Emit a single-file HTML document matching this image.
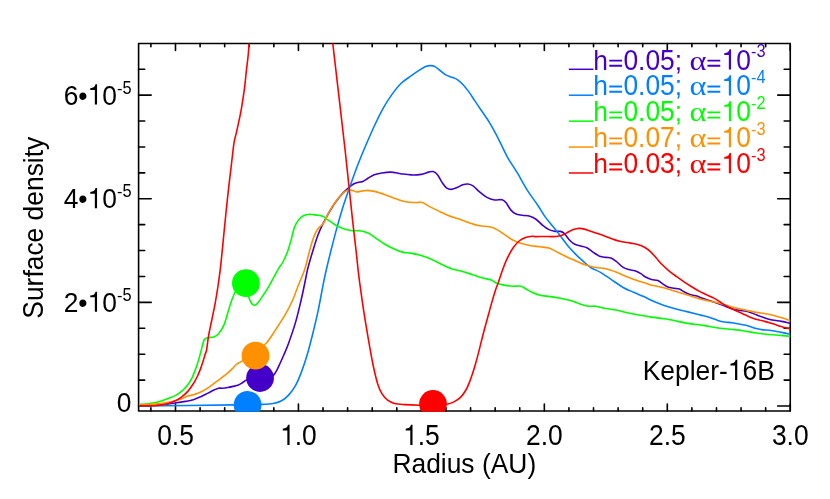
<!DOCTYPE html>
<html><head><meta charset="utf-8"><title>Surface density</title>
<style>html,body{margin:0;padding:0;background:#fff;}body{width:830px;height:499px;position:relative;overflow:hidden;font-family:"Liberation Sans",sans-serif;}</style>
</head><body>
<svg width="830" height="499" viewBox="0 0 830 499" style="position:absolute;left:0;top:0;will-change:transform;-webkit-font-smoothing:antialiased">
<defs><clipPath id="pc"><rect x="138.6" y="43.5" width="651.65" height="368.15000000000003"/></clipPath></defs>
<path d="M150.90,411.05v-3.2M150.90,43.5v3.2M175.49,411.05v-7.0M175.49,43.5v7.0M200.08,411.05v-3.2M200.08,43.5v3.2M224.67,411.05v-3.2M224.67,43.5v3.2M249.26,411.05v-3.2M249.26,43.5v3.2M273.85,411.05v-3.2M273.85,43.5v3.2M298.44,411.05v-7.0M298.44,43.5v7.0M323.03,411.05v-3.2M323.03,43.5v3.2M347.62,411.05v-3.2M347.62,43.5v3.2M372.21,411.05v-3.2M372.21,43.5v3.2M396.80,411.05v-3.2M396.80,43.5v3.2M421.39,411.05v-7.0M421.39,43.5v7.0M445.98,411.05v-3.2M445.98,43.5v3.2M470.57,411.05v-3.2M470.57,43.5v3.2M495.16,411.05v-3.2M495.16,43.5v3.2M519.75,411.05v-3.2M519.75,43.5v3.2M544.34,411.05v-7.0M544.34,43.5v7.0M568.93,411.05v-3.2M568.93,43.5v3.2M593.53,411.05v-3.2M593.53,43.5v3.2M618.12,411.05v-3.2M618.12,43.5v3.2M642.71,411.05v-3.2M642.71,43.5v3.2M667.30,411.05v-7.0M667.30,43.5v7.0M691.89,411.05v-3.2M691.89,43.5v3.2M716.48,411.05v-3.2M716.48,43.5v3.2M741.07,411.05v-3.2M741.07,43.5v3.2M765.66,411.05v-3.2M765.66,43.5v3.2M790.25,411.05v-7.0M790.25,43.5v7.0M138.6,406.03h12.6M790.25,406.03h-12.6M138.6,380.12h6.1M790.25,380.12h-6.1M138.6,354.21h6.1M790.25,354.21h-6.1M138.6,328.30h6.1M790.25,328.30h-6.1M138.6,302.39h12.6M790.25,302.39h-12.6M138.6,276.48h6.1M790.25,276.48h-6.1M138.6,250.57h6.1M790.25,250.57h-6.1M138.6,224.66h6.1M790.25,224.66h-6.1M138.6,198.75h12.6M790.25,198.75h-12.6M138.6,172.84h6.1M790.25,172.84h-6.1M138.6,146.93h6.1M790.25,146.93h-6.1M138.6,121.02h6.1M790.25,121.02h-6.1M138.6,95.11h12.6M790.25,95.11h-12.6M138.6,69.20h6.1M790.25,69.20h-6.1" stroke="#000" stroke-width="1.6" fill="none" stroke-linecap="round"/>
<rect stroke-linejoin="round" x="138.6" y="43.5" width="651.65" height="367.55" fill="none" stroke="#000" stroke-width="1.6"/>
<g clip-path="url(#pc)" fill="none" stroke-linejoin="round" stroke-linecap="round">
<path d="M139.60,405.40C143.25,405.27 155.63,405.00 161.50,404.60C167.37,404.20 170.82,403.53 174.80,403.00C178.78,402.47 182.32,401.95 185.40,401.40C188.48,400.85 190.65,400.53 193.30,399.70C195.95,398.87 198.87,397.50 201.30,396.40C203.73,395.30 205.70,394.20 207.90,393.10C210.10,392.00 212.73,390.62 214.50,389.80C216.27,388.98 217.17,388.47 218.50,388.20C219.83,387.93 220.95,388.32 222.50,388.20C224.05,388.08 226.03,387.80 227.80,387.50C229.57,387.20 231.33,386.82 233.10,386.40C234.87,385.98 236.85,385.62 238.40,385.00C239.95,384.38 241.05,383.52 242.40,382.70C243.75,381.88 244.90,380.78 246.50,380.10C248.10,379.42 249.42,378.87 252.00,378.60C254.58,378.33 259.00,378.68 262.00,378.50C265.00,378.32 268.07,378.07 270.00,377.50C271.93,376.93 272.43,376.38 273.60,375.10C274.77,373.82 275.93,371.73 277.00,369.80C278.07,367.87 278.83,366.05 280.00,363.50C281.17,360.95 282.57,357.88 284.00,354.50C285.43,351.12 286.67,348.60 288.60,343.20C290.53,337.80 293.50,329.35 295.60,322.10C297.70,314.85 299.63,306.38 301.20,299.70C302.77,293.02 303.95,286.98 305.00,282.00C306.05,277.02 306.57,273.73 307.50,269.80C308.43,265.87 309.48,262.30 310.60,258.40C311.72,254.50 313.00,250.22 314.20,246.40C315.40,242.58 316.52,238.92 317.80,235.50C319.08,232.08 320.48,228.90 321.90,225.90C323.32,222.90 324.77,220.32 326.30,217.50C327.83,214.68 329.30,211.90 331.10,209.00C332.90,206.10 335.10,202.78 337.10,200.10C339.10,197.42 341.08,195.03 343.10,192.90C345.12,190.77 347.38,188.83 349.20,187.30C351.02,185.77 352.20,184.58 354.00,183.70C355.80,182.82 358.52,182.37 360.00,182.00C361.48,181.63 361.57,182.13 362.90,181.50C364.23,180.87 366.10,179.33 368.00,178.20C369.90,177.07 372.20,175.53 374.30,174.70C376.40,173.87 377.87,173.63 380.60,173.20C383.33,172.77 387.32,172.02 390.70,172.10C394.08,172.18 397.52,173.23 400.90,173.70C404.28,174.17 407.63,174.78 411.00,174.90C414.37,175.02 418.15,174.87 421.10,174.40C424.05,173.93 426.68,172.57 428.70,172.10C430.72,171.63 431.73,171.17 433.20,171.60C434.67,172.03 435.93,172.75 437.50,174.70C439.07,176.65 441.12,181.12 442.60,183.30C444.08,185.48 445.00,186.78 446.40,187.80C447.80,188.82 449.32,189.40 451.00,189.40C452.68,189.40 454.53,188.57 456.50,187.80C458.47,187.03 460.90,185.43 462.80,184.80C464.70,184.17 466.20,183.83 467.90,184.00C469.60,184.17 471.10,184.53 473.00,185.80C474.90,187.07 476.98,189.67 479.30,191.60C481.62,193.53 484.37,196.00 486.90,197.40C489.43,198.80 491.97,199.62 494.50,200.00C497.03,200.38 500.20,199.28 502.10,199.70C504.00,200.12 504.43,200.77 505.90,202.50C507.37,204.23 509.22,208.17 510.90,210.10C512.58,212.03 514.10,213.25 516.00,214.10C517.90,214.95 519.98,214.85 522.30,215.20C524.62,215.55 527.57,215.48 529.90,216.20C532.23,216.92 534.17,217.98 536.30,219.50C538.43,221.02 540.58,223.62 542.70,225.30C544.82,226.98 546.90,228.58 549.00,229.60C551.10,230.62 553.40,231.10 555.30,231.40C557.20,231.70 558.92,231.07 560.40,231.40C561.88,231.73 562.73,232.02 564.20,233.40C565.67,234.78 567.52,237.93 569.20,239.70C570.88,241.47 572.40,242.95 574.30,244.00C576.20,245.05 578.50,245.37 580.60,246.00C582.70,246.63 584.78,246.73 586.90,247.80C589.02,248.87 591.18,251.00 593.30,252.40C595.42,253.80 597.50,255.37 599.60,256.20C601.70,257.03 604.00,257.12 605.90,257.40C607.80,257.68 609.32,257.27 611.00,257.90C612.68,258.53 614.10,259.72 616.00,261.20C617.90,262.68 620.28,265.40 622.40,266.80C624.52,268.20 626.60,268.93 628.70,269.60C630.80,270.27 632.90,270.08 635.00,270.80C637.10,271.52 639.62,272.90 641.30,273.90C642.98,274.90 643.40,275.88 645.10,276.80C646.80,277.72 649.38,278.77 651.50,279.40C653.62,280.03 655.92,279.85 657.80,280.60C659.68,281.35 661.12,282.83 662.80,283.90C664.48,284.97 666.00,286.28 667.90,287.00C669.80,287.72 672.30,287.87 674.20,288.20C676.10,288.53 677.60,288.37 679.30,289.00C681.00,289.63 682.50,291.03 684.40,292.00C686.30,292.97 688.60,294.12 690.70,294.80C692.80,295.48 694.90,295.48 697.00,296.10C699.10,296.72 700.05,297.37 703.30,298.50C706.55,299.63 712.75,301.58 716.50,302.90C720.25,304.22 723.15,305.37 725.80,306.40C728.45,307.43 729.97,308.43 732.40,309.10C734.83,309.77 737.75,309.97 740.40,310.40C743.05,310.83 745.65,310.97 748.30,311.70C750.95,312.43 753.65,313.80 756.30,314.80C758.95,315.80 761.55,316.83 764.20,317.70C766.85,318.57 769.32,319.38 772.20,320.00C775.08,320.62 778.48,320.85 781.50,321.40C784.52,321.95 788.83,322.98 790.30,323.30" stroke="#4400c8" stroke-width="1.6"/>
<path d="M139.80,406.00C155.48,405.82 213.55,405.17 233.90,404.90C254.25,404.63 255.35,404.63 261.90,404.40C268.45,404.17 269.92,404.12 273.20,403.50C276.48,402.88 279.03,402.10 281.60,400.70C284.17,399.30 286.27,397.67 288.60,395.10C290.93,392.53 293.50,389.05 295.60,385.30C297.70,381.55 299.32,377.52 301.20,372.60C303.08,367.68 305.02,362.12 306.90,355.80C308.78,349.48 310.63,342.18 312.50,334.70C314.37,327.22 316.35,319.13 318.10,310.90C319.85,302.67 321.63,292.15 323.00,285.30C324.37,278.45 324.95,275.68 326.30,269.80C327.65,263.92 329.30,257.12 331.10,250.00C332.90,242.88 335.10,234.33 337.10,227.10C339.10,219.87 341.08,213.02 343.10,206.60C345.12,200.18 347.18,194.42 349.20,188.60C351.22,182.78 353.40,176.60 355.20,171.70C357.00,166.80 358.30,163.43 360.00,159.20C361.70,154.97 363.02,151.83 365.40,146.30C367.78,140.77 371.35,132.33 374.30,126.00C377.25,119.67 380.15,113.57 383.10,108.30C386.05,103.03 389.03,98.53 392.00,94.40C394.97,90.27 397.73,86.58 400.90,83.50C404.07,80.42 407.85,78.17 411.00,75.90C414.15,73.63 417.27,71.50 419.80,69.90C422.33,68.30 424.38,67.02 426.20,66.30C428.02,65.58 429.23,65.55 430.70,65.60C432.17,65.65 433.45,65.78 435.00,66.60C436.55,67.42 438.20,69.12 440.00,70.50C441.80,71.88 443.87,73.78 445.80,74.90C447.73,76.02 449.68,76.42 451.60,77.20C453.52,77.98 455.38,78.35 457.30,79.60C459.22,80.85 461.17,82.65 463.10,84.70C465.03,86.75 466.97,89.25 468.90,91.90C470.83,94.55 472.77,97.70 474.70,100.60C476.63,103.50 478.13,105.80 480.50,109.30C482.87,112.80 486.37,117.55 488.90,121.60C491.43,125.65 493.30,129.07 495.70,133.60C498.10,138.13 501.18,144.58 503.30,148.80C505.42,153.02 506.08,154.92 508.40,158.90C510.72,162.88 514.03,167.45 517.20,172.70C520.37,177.95 524.00,185.02 527.40,190.40C530.80,195.78 534.63,200.58 537.60,205.00C540.57,209.42 542.67,213.35 545.20,216.90C547.73,220.45 550.27,223.13 552.80,226.30C555.33,229.47 557.87,232.62 560.40,235.90C562.93,239.18 565.48,242.97 568.00,246.00C570.52,249.03 572.98,251.57 575.50,254.10C578.02,256.63 580.57,258.97 583.10,261.20C585.63,263.43 587.73,265.60 590.70,267.50C593.67,269.40 597.52,270.62 600.90,272.60C604.28,274.58 607.22,276.88 611.00,279.40C614.78,281.92 619.82,285.55 623.60,287.70C627.38,289.85 630.32,290.82 633.70,292.30C637.08,293.78 640.52,295.05 643.90,296.60C647.28,298.15 650.63,300.13 654.00,301.60C657.37,303.07 660.73,304.25 664.10,305.40C667.47,306.55 670.82,307.57 674.20,308.50C677.58,309.43 681.02,310.17 684.40,311.00C687.78,311.83 691.80,312.82 694.50,313.50C697.20,314.18 698.03,314.45 700.60,315.10C703.17,315.75 707.03,316.52 709.90,317.40C712.77,318.28 715.37,319.63 717.80,320.40C720.23,321.17 722.07,321.62 724.50,322.00C726.93,322.38 729.75,322.32 732.40,322.70C735.05,323.08 737.75,323.77 740.40,324.30C743.05,324.83 745.65,325.18 748.30,325.90C750.95,326.62 754.08,327.98 756.30,328.60C758.52,329.22 758.95,329.25 761.60,329.60C764.25,329.95 768.67,330.20 772.20,330.70C775.73,331.20 779.78,332.00 782.80,332.60C785.82,333.20 789.05,334.02 790.30,334.30" stroke="#0080ff" stroke-width="1.6"/>
<path d="M139.60,404.30C141.05,404.20 145.08,404.13 148.30,403.70C151.52,403.27 155.60,402.58 158.90,401.70C162.20,400.82 165.23,399.50 168.10,398.40C170.97,397.30 173.67,396.43 176.10,395.10C178.53,393.77 180.72,392.17 182.70,390.40C184.68,388.63 186.45,386.60 188.00,384.50C189.55,382.40 190.78,380.23 192.00,377.80C193.22,375.37 194.30,372.55 195.30,369.90C196.30,367.25 197.23,364.33 198.00,361.90C198.77,359.47 199.35,357.28 199.90,355.30C200.45,353.32 200.55,352.63 201.30,350.00C202.05,347.37 203.18,341.57 204.40,339.50C205.62,337.43 207.05,338.02 208.60,337.60C210.15,337.18 212.07,337.62 213.70,337.00C215.33,336.38 216.68,335.92 218.40,333.90C220.12,331.88 222.35,328.73 224.00,324.90C225.65,321.07 226.97,315.13 228.30,310.90C229.63,306.67 230.85,302.65 232.00,299.50C233.15,296.35 234.03,294.42 235.20,292.00C236.37,289.58 237.70,286.33 239.00,285.00C240.30,283.67 241.75,283.33 243.00,284.00C244.25,284.67 245.55,286.82 246.50,289.00C247.45,291.18 247.90,294.77 248.70,297.10C249.50,299.43 250.35,301.63 251.30,303.00C252.25,304.37 253.33,305.30 254.40,305.30C255.47,305.30 256.27,304.65 257.70,303.00C259.13,301.35 261.55,297.50 263.00,295.40C264.45,293.30 265.17,292.38 266.40,290.40C267.63,288.42 269.13,285.75 270.40,283.50C271.67,281.25 272.60,279.45 274.00,276.90C275.40,274.35 277.32,270.68 278.80,268.20C280.28,265.72 281.42,264.83 282.90,262.00C284.38,259.17 286.30,255.00 287.70,251.20C289.10,247.40 290.17,243.22 291.30,239.20C292.43,235.18 293.28,230.32 294.50,227.10C295.72,223.88 297.12,221.78 298.60,219.90C300.08,218.02 301.60,216.73 303.40,215.80C305.20,214.87 307.20,214.42 309.40,214.30C311.60,214.18 314.38,214.77 316.60,215.10C318.82,215.43 320.68,215.42 322.70,216.30C324.72,217.18 326.50,218.92 328.70,220.40C330.90,221.88 333.30,223.77 335.90,225.20C338.50,226.63 341.48,228.08 344.30,229.00C347.12,229.92 350.18,230.42 352.80,230.70C355.42,230.98 357.47,230.33 360.00,230.70C362.53,231.07 365.42,231.70 368.00,232.90C370.58,234.10 372.55,235.92 375.50,237.90C378.45,239.88 382.32,242.82 385.70,244.80C389.08,246.78 392.85,248.53 395.80,249.80C398.75,251.07 400.87,251.85 403.40,252.40C405.93,252.95 408.05,252.57 411.00,253.10C413.95,253.63 417.73,254.58 421.10,255.60C424.47,256.62 427.83,257.75 431.20,259.20C434.57,260.65 437.92,262.70 441.30,264.30C444.68,265.90 448.12,267.63 451.50,268.80C454.88,269.97 458.23,270.37 461.60,271.30C464.97,272.23 468.33,273.33 471.70,274.40C475.07,275.47 478.43,276.73 481.80,277.70C485.17,278.67 489.60,279.35 491.90,280.20C494.20,281.05 493.57,281.98 495.60,282.80C497.63,283.62 501.28,284.53 504.10,285.10C506.92,285.67 509.70,286.02 512.50,286.20C515.30,286.38 518.57,285.68 520.90,286.20C523.23,286.72 524.40,288.17 526.50,289.30C528.60,290.43 531.23,292.00 533.50,293.00C535.77,294.00 537.32,294.70 540.10,295.30C542.88,295.90 546.82,296.10 550.20,296.60C553.58,297.10 557.02,297.67 560.40,298.30C563.78,298.93 567.13,299.42 570.50,300.40C573.87,301.38 577.65,303.23 580.60,304.20C583.55,305.17 585.67,305.87 588.20,306.20C590.73,306.53 592.85,305.82 595.80,306.20C598.75,306.58 602.53,307.87 605.90,308.50C609.27,309.13 612.62,309.33 616.00,310.00C619.38,310.67 622.40,311.67 626.20,312.50C630.00,313.33 634.58,314.23 638.80,315.00C643.02,315.77 647.28,316.47 651.50,317.10C655.72,317.73 659.88,318.13 664.10,318.80C668.32,319.47 672.58,320.30 676.80,321.10C681.02,321.90 684.98,322.88 689.40,323.60C693.82,324.32 698.78,324.72 703.30,325.40C707.82,326.08 712.08,327.07 716.50,327.70C720.92,328.33 725.38,328.70 729.80,329.20C734.22,329.70 738.58,330.07 743.00,330.70C747.42,331.33 751.88,332.37 756.30,333.00C760.72,333.63 765.08,334.07 769.50,334.50C773.92,334.93 779.33,335.30 782.80,335.60C786.27,335.90 789.05,336.18 790.30,336.30" stroke="#00ff00" stroke-width="1.6"/>
<path d="M139.60,405.00C142.15,404.85 150.15,404.53 154.90,404.10C159.65,403.67 164.13,403.13 168.10,402.40C172.07,401.67 175.38,400.75 178.70,399.70C182.02,398.65 185.35,396.98 188.00,396.10C190.65,395.22 192.38,395.12 194.60,394.40C196.82,393.68 198.87,393.02 201.30,391.80C203.73,390.58 206.55,388.88 209.20,387.10C211.85,385.32 214.55,383.08 217.20,381.10C219.85,379.12 222.67,377.18 225.10,375.20C227.53,373.22 229.80,371.08 231.80,369.20C233.80,367.32 235.33,365.28 237.10,363.90C238.87,362.52 239.42,363.05 242.40,360.90C245.38,358.75 251.03,353.95 255.00,351.00C258.97,348.05 262.70,346.85 266.20,343.20C269.70,339.55 272.73,334.02 276.00,329.10C279.27,324.18 283.00,318.60 285.80,313.70C288.60,308.80 290.72,304.43 292.80,299.70C294.88,294.97 296.33,290.28 298.30,285.30C300.27,280.32 302.95,274.68 304.60,269.80C306.25,264.92 307.00,260.50 308.20,256.00C309.40,251.50 310.60,246.62 311.80,242.80C313.00,238.98 314.20,235.63 315.40,233.10C316.60,230.57 317.67,229.20 319.00,227.60C320.33,226.00 321.98,225.58 323.40,223.50C324.82,221.42 326.02,217.92 327.50,215.10C328.98,212.28 330.50,209.42 332.30,206.60C334.10,203.78 336.30,200.60 338.30,198.20C340.30,195.80 342.48,193.60 344.30,192.20C346.12,190.80 347.78,190.08 349.20,189.80C350.62,189.52 351.60,190.15 352.80,190.50C354.00,190.85 355.20,191.75 356.40,191.90C357.60,192.05 358.92,191.57 360.00,191.40C361.08,191.23 361.57,191.07 362.90,190.90C364.23,190.73 365.90,190.28 368.00,190.40C370.10,190.52 372.55,190.85 375.50,191.60C378.45,192.35 382.32,193.72 385.70,194.90C389.08,196.08 392.43,197.55 395.80,198.70C399.17,199.85 402.53,201.17 405.90,201.80C409.27,202.43 413.25,202.38 416.00,202.50C418.75,202.62 420.28,201.90 422.40,202.50C424.52,203.10 425.97,204.67 428.70,206.10C431.43,207.53 435.43,209.50 438.80,211.10C442.17,212.70 445.53,214.38 448.90,215.70C452.27,217.02 455.62,217.82 459.00,219.00C462.38,220.18 465.82,221.67 469.20,222.80C472.58,223.93 475.93,225.13 479.30,225.80C482.67,226.47 486.45,226.17 489.40,226.80C492.35,227.43 494.47,228.30 497.00,229.60C499.53,230.90 502.07,232.92 504.60,234.60C507.13,236.28 509.67,238.30 512.20,239.70C514.73,241.10 516.85,242.03 519.80,243.00C522.75,243.97 526.52,244.87 529.90,245.50C533.28,246.13 536.92,246.37 540.10,246.80C543.28,247.23 546.47,247.38 549.00,248.10C551.53,248.82 552.57,249.75 555.30,251.10C558.03,252.45 562.03,254.60 565.40,256.20C568.77,257.80 572.12,259.23 575.50,260.70C578.88,262.17 582.32,263.87 585.70,265.00C589.08,266.13 592.43,266.87 595.80,267.50C599.17,268.13 602.53,268.03 605.90,268.80C609.27,269.57 612.62,270.83 616.00,272.10C619.38,273.37 622.82,275.05 626.20,276.40C629.58,277.75 632.93,279.02 636.30,280.20C639.67,281.38 643.87,282.67 646.40,283.50C648.93,284.33 648.97,284.58 651.50,285.20C654.03,285.82 658.23,286.37 661.60,287.20C664.97,288.03 668.33,289.18 671.70,290.20C675.07,291.22 678.75,292.37 681.80,293.30C684.85,294.23 686.42,294.72 690.00,295.80C693.58,296.88 698.88,298.68 703.30,299.80C707.72,300.92 712.08,301.40 716.50,302.50C720.92,303.60 725.38,305.23 729.80,306.40C734.22,307.57 738.58,308.50 743.00,309.50C747.42,310.50 752.77,311.73 756.30,312.40C759.83,313.07 761.12,312.95 764.20,313.50C767.28,314.05 771.70,314.93 774.80,315.70C777.90,316.47 780.22,317.25 782.80,318.10C785.38,318.95 789.05,320.35 790.30,320.80" stroke="#ff9000" stroke-width="1.6"/>
<path d="M139.60,405.70C142.15,405.70 150.58,405.93 154.90,405.70C159.22,405.47 162.18,405.08 165.50,404.30C168.82,403.52 172.15,402.20 174.80,401.00C177.45,399.80 179.20,398.75 181.40,397.10C183.60,395.45 186.02,393.32 188.00,391.10C189.98,388.88 191.75,386.23 193.30,383.80C194.85,381.37 196.08,379.03 197.30,376.50C198.52,373.97 199.60,371.25 200.60,368.60C201.60,365.95 202.53,363.03 203.30,360.60C204.07,358.17 204.65,355.77 205.20,354.00C205.75,352.23 206.03,353.07 206.60,350.00C207.17,346.93 207.70,340.77 208.60,335.60C209.50,330.43 210.90,324.42 212.00,319.00C213.10,313.58 214.20,308.60 215.20,303.10C216.20,297.60 217.17,291.55 218.00,286.00C218.83,280.45 219.58,274.80 220.20,269.80C220.82,264.80 221.13,261.52 221.70,256.00C222.27,250.48 222.97,243.12 223.60,236.70C224.23,230.28 224.85,223.92 225.50,217.50C226.15,211.08 226.85,204.23 227.50,198.20C228.15,192.17 228.75,186.92 229.40,181.30C230.05,175.68 230.80,169.63 231.40,164.50C232.00,159.37 232.52,154.38 233.00,150.50C233.48,146.62 233.70,144.35 234.30,141.20C234.90,138.05 235.82,135.02 236.60,131.60C237.38,128.18 238.23,124.32 239.00,120.70C239.77,117.08 240.52,113.72 241.20,109.90C241.88,106.08 242.50,101.82 243.10,97.80C243.70,93.78 244.27,90.22 244.80,85.80C245.33,81.38 245.77,76.12 246.30,71.30C246.83,66.48 247.52,61.52 248.00,56.90C248.48,52.28 248.95,46.42 249.20,43.60C249.45,40.78 249.45,40.60 249.50,40.00" stroke="#ff0000" stroke-width="1.6"/>
<path d="M332.40,40.00C332.47,40.60 331.62,33.37 332.80,43.60C333.98,53.83 337.45,83.67 339.50,101.40C341.55,119.13 343.48,135.47 345.10,150.00C346.72,164.53 347.92,176.55 349.20,188.60C350.48,200.65 351.60,211.47 352.80,222.30C354.00,233.13 355.52,245.68 356.40,253.60C357.28,261.52 357.57,265.07 358.10,269.80C358.63,274.53 358.67,275.15 359.60,282.00C360.53,288.85 362.08,300.47 363.70,310.90C365.32,321.33 367.67,335.25 369.30,344.60C370.93,353.95 372.10,360.45 373.50,367.00C374.90,373.55 376.30,379.45 377.70,383.90C379.10,388.35 380.25,390.98 381.90,393.70C383.55,396.42 385.48,398.57 387.60,400.20C389.72,401.83 391.80,402.77 394.60,403.50C397.40,404.23 400.20,404.32 404.40,404.60C408.60,404.88 415.03,405.10 419.80,405.20C424.57,405.30 428.48,405.37 433.00,405.20C437.52,405.03 443.48,404.72 446.90,404.20C450.32,403.68 451.23,403.23 453.50,402.10C455.77,400.97 458.38,399.50 460.50,397.40C462.62,395.30 464.55,392.45 466.20,389.50C467.85,386.55 469.00,383.45 470.40,379.70C471.80,375.95 473.20,371.68 474.60,367.00C476.00,362.32 477.40,356.98 478.80,351.60C480.20,346.22 481.60,340.08 483.00,334.70C484.40,329.32 485.80,324.43 487.20,319.30C488.60,314.17 490.00,308.82 491.40,303.90C492.80,298.98 494.45,293.37 495.60,289.80C496.75,286.23 497.22,285.58 498.30,282.50C499.38,279.42 500.63,275.27 502.10,271.30C503.57,267.33 505.20,262.70 507.10,258.70C509.00,254.70 511.38,250.33 513.50,247.30C515.62,244.27 517.70,242.18 519.80,240.50C521.90,238.82 524.00,237.92 526.10,237.20C528.20,236.48 530.92,236.30 532.40,236.20C533.88,236.10 533.00,236.55 535.00,236.60C537.00,236.65 541.38,236.50 544.40,236.50C547.42,236.50 550.68,236.68 553.10,236.60C555.52,236.52 557.10,236.37 558.90,236.00C560.70,235.63 562.33,235.07 563.90,234.40C565.47,233.73 566.85,232.77 568.30,232.00C569.75,231.23 571.28,230.35 572.60,229.80C573.92,229.25 575.00,228.93 576.20,228.70C577.40,228.47 578.47,228.33 579.80,228.40C581.13,228.47 582.75,228.75 584.20,229.10C585.65,229.45 586.70,229.90 588.50,230.50C590.30,231.10 592.33,231.80 595.00,232.70C597.67,233.60 600.52,234.52 604.50,235.90C608.48,237.28 614.57,239.80 618.90,241.00C623.23,242.20 627.12,242.45 630.50,243.10C633.88,243.75 636.80,244.17 639.20,244.90C641.60,245.63 642.98,246.35 644.90,247.50C646.82,248.65 648.77,250.00 650.70,251.80C652.63,253.60 654.57,256.13 656.50,258.30C658.43,260.47 660.13,262.63 662.30,264.80C664.47,266.97 667.10,269.32 669.50,271.30C671.90,273.28 674.28,274.93 676.70,276.70C679.12,278.47 681.58,280.27 684.00,281.90C686.42,283.53 688.55,284.88 691.20,286.50C693.85,288.12 697.88,290.48 699.90,291.60C701.92,292.72 700.97,292.12 703.30,293.20C705.63,294.28 710.82,296.45 713.90,298.10C716.98,299.75 719.15,301.48 721.80,303.10C724.45,304.72 727.15,306.42 729.80,307.80C732.45,309.18 735.05,310.18 737.70,311.40C740.35,312.62 743.05,313.93 745.70,315.10C748.35,316.27 750.95,317.48 753.60,318.40C756.25,319.32 758.95,319.88 761.60,320.60C764.25,321.32 766.85,321.90 769.50,322.70C772.15,323.50 774.03,324.35 777.50,325.40C780.97,326.45 788.17,328.40 790.30,329.00" stroke="#ff0000" stroke-width="1.6"/>
<circle cx="260.05" cy="378.0" r="13.9" fill="#4400c8" stroke="none"/>
<circle cx="247.6" cy="404.9" r="13.9" fill="#0080ff" stroke="none"/>
<circle cx="245.9" cy="283.2" r="13.9" fill="#00ff00" stroke="none"/>
<circle cx="255.5" cy="355.7" r="13.9" fill="#ff9000" stroke="none"/>
<circle cx="433.0" cy="404.0" r="13.9" fill="#ff0000" stroke="none"/>
</g>
<g transform="translate(175.49,445.0)" fill="#000" style="font-family:'Liberation Sans',sans-serif;font-kerning:none"><text transform="translate(-18.35,0) scale(1,1.085)" font-size="26.4">0</text><text transform="translate(-3.67,0) scale(1,1.04)" font-size="26.4">.</text><text transform="translate(3.67,0) scale(1,1.085)" font-size="26.4">5</text></g>
<g transform="translate(298.44,445.0)" fill="#000" style="font-family:'Liberation Sans',sans-serif;font-kerning:none"><path transform="translate(-18.35,0) scale(0.01289,-0.01399)" d="M563 0V1034H207V1163C420 1168 575 1250 616 1440H735V0Z"/><text transform="translate(-3.67,0) scale(1,1.04)" font-size="26.4">.</text><text transform="translate(3.67,0) scale(1,1.085)" font-size="26.4">0</text></g>
<g transform="translate(421.39,445.0)" fill="#000" style="font-family:'Liberation Sans',sans-serif;font-kerning:none"><path transform="translate(-18.35,0) scale(0.01289,-0.01399)" d="M563 0V1034H207V1163C420 1168 575 1250 616 1440H735V0Z"/><text transform="translate(-3.67,0) scale(1,1.04)" font-size="26.4">.</text><text transform="translate(3.67,0) scale(1,1.085)" font-size="26.4">5</text></g>
<g transform="translate(544.34,445.0)" fill="#000" style="font-family:'Liberation Sans',sans-serif;font-kerning:none"><text transform="translate(-18.35,0) scale(1,1.085)" font-size="26.4">2</text><text transform="translate(-3.67,0) scale(1,1.04)" font-size="26.4">.</text><text transform="translate(3.67,0) scale(1,1.085)" font-size="26.4">0</text></g>
<g transform="translate(667.30,445.0)" fill="#000" style="font-family:'Liberation Sans',sans-serif;font-kerning:none"><text transform="translate(-18.35,0) scale(1,1.085)" font-size="26.4">2</text><text transform="translate(-3.67,0) scale(1,1.04)" font-size="26.4">.</text><text transform="translate(3.67,0) scale(1,1.085)" font-size="26.4">5</text></g>
<g transform="translate(790.25,445.0)" fill="#000" style="font-family:'Liberation Sans',sans-serif;font-kerning:none"><text transform="translate(-18.35,0) scale(1,1.085)" font-size="26.4">3</text><text transform="translate(-3.67,0) scale(1,1.04)" font-size="26.4">.</text><text transform="translate(3.67,0) scale(1,1.085)" font-size="26.4">0</text></g>
<g transform="translate(464.3,472.5)" fill="#000" style="font-family:'Liberation Sans',sans-serif;font-kerning:none"><text transform="translate(-71.88,0) scale(1,1.07)" font-size="26.4">R</text><text transform="translate(-52.82,0) scale(1,1.04)" font-size="26.4">adius (</text><text transform="translate(26.42,0) scale(1,1.07)" font-size="26.4">AU</text><text transform="translate(63.09,0) scale(1,1.04)" font-size="26.4">)</text></g>
<g transform="translate(131.5,411.73)" fill="#000" style="font-family:'Liberation Sans',sans-serif;font-kerning:none"><text transform="translate(-14.68,0) scale(1,1.068725)" font-size="26.4">0</text></g>
<g transform="translate(131.5,311.79)" fill="#000" style="font-family:'Liberation Sans',sans-serif;font-kerning:none"><text transform="translate(-67.85,0) scale(1,1.068725)" font-size="26.4">2</text><text transform="translate(-53.16,0) scale(1,1.0244)" font-size="26.4">•</text><path transform="translate(-43.92,0) scale(0.01289,-0.01399)" d="M563 0V1034H207V1163C420 1168 575 1250 616 1440H735V0Z"/><text transform="translate(-29.24,0) scale(1,1.068725)" font-size="26.4">0</text><text transform="translate(-14.56,-11.0) scale(1,1.0244)" font-size="16.37">-</text><text transform="translate(-9.10,-11.0) scale(1,1.068725)" font-size="16.37">5</text></g>
<g transform="translate(131.5,208.15)" fill="#000" style="font-family:'Liberation Sans',sans-serif;font-kerning:none"><text transform="translate(-67.85,0) scale(1,1.068725)" font-size="26.4">4</text><text transform="translate(-53.16,0) scale(1,1.0244)" font-size="26.4">•</text><path transform="translate(-43.92,0) scale(0.01289,-0.01399)" d="M563 0V1034H207V1163C420 1168 575 1250 616 1440H735V0Z"/><text transform="translate(-29.24,0) scale(1,1.068725)" font-size="26.4">0</text><text transform="translate(-14.56,-11.0) scale(1,1.0244)" font-size="16.37">-</text><text transform="translate(-9.10,-11.0) scale(1,1.068725)" font-size="16.37">5</text></g>
<g transform="translate(131.5,104.51)" fill="#000" style="font-family:'Liberation Sans',sans-serif;font-kerning:none"><text transform="translate(-67.85,0) scale(1,1.068725)" font-size="26.4">6</text><text transform="translate(-53.16,0) scale(1,1.0244)" font-size="26.4">•</text><path transform="translate(-43.92,0) scale(0.01289,-0.01399)" d="M563 0V1034H207V1163C420 1168 575 1250 616 1440H735V0Z"/><text transform="translate(-29.24,0) scale(1,1.068725)" font-size="26.4">0</text><text transform="translate(-14.56,-11.0) scale(1,1.0244)" font-size="16.37">-</text><text transform="translate(-9.10,-11.0) scale(1,1.068725)" font-size="16.37">5</text></g>
<g transform="translate(43.4,227.7) rotate(-90)" fill="#000" style="font-family:'Liberation Sans',sans-serif;font-kerning:none"><text transform="translate(-90.98,0) scale(1,1.1021)" font-size="26.4">S</text><text transform="translate(-73.37,0) scale(1,1.0712000000000002)" font-size="26.4">urface density</text></g>
<g transform="translate(642.7,380.0)" fill="#000" style="font-family:'Liberation Sans',sans-serif;font-kerning:none"><text transform="translate(0.00,0) scale(1,1.07)" font-size="26.4">K</text><text transform="translate(17.61,0) scale(1,1.04)" font-size="26.4">epler-</text><path transform="translate(85.10,0) scale(0.01289,-0.01399)" d="M563 0V1034H207V1163C420 1168 575 1250 616 1440H735V0Z"/><text transform="translate(99.79,0) scale(1,1.085)" font-size="26.4">6</text><text transform="translate(114.47,0) scale(1,1.07)" font-size="26.4">B</text></g>
<path d="M568.8,69.30H593.4" stroke="#4400c8" stroke-width="1.5"/>
<g transform="translate(593.3,69.50)" fill="#4400c8" style="font-family:'Liberation Sans',sans-serif;font-kerning:none"><text transform="translate(0.00,0) scale(1,1.04)" font-size="26.4">h</text><path transform="translate(14.68,0) scale(0.01289,-0.01289)" d="M100 216V360H1095V216ZM100 618V762H1095V618Z"/><text transform="translate(30.10,0) scale(1,1.085)" font-size="26.4">0</text><text transform="translate(44.78,0) scale(1,1.04)" font-size="26.4">.</text><text transform="translate(52.12,0) scale(1,1.085)" font-size="26.4">05</text><text transform="translate(81.48,0) scale(1,1.04)" font-size="26.4">; </text><text transform="translate(96.15,0) scale(1.226,1.07)" font-size="26.4" style="font-family:'Liberation Serif',serif">α</text><path transform="translate(112.85,0) scale(0.01289,-0.01289)" d="M100 216V360H1095V216ZM100 618V762H1095V618Z"/><path transform="translate(128.27,0) scale(0.01289,-0.01399)" d="M563 0V1034H207V1163C420 1168 575 1250 616 1440H735V0Z"/><text transform="translate(142.95,0) scale(1,1.085)" font-size="26.4">0</text><text transform="translate(157.63,-12.2) scale(1,1.04)" font-size="16.37">-</text><text transform="translate(163.08,-12.2) scale(1,1.085)" font-size="16.37">3</text></g>
<path d="M568.8,95.22H593.4" stroke="#0080ff" stroke-width="1.5"/>
<g transform="translate(593.3,95.42)" fill="#0080ff" style="font-family:'Liberation Sans',sans-serif;font-kerning:none"><text transform="translate(0.00,0) scale(1,1.04)" font-size="26.4">h</text><path transform="translate(14.68,0) scale(0.01289,-0.01289)" d="M100 216V360H1095V216ZM100 618V762H1095V618Z"/><text transform="translate(30.10,0) scale(1,1.085)" font-size="26.4">0</text><text transform="translate(44.78,0) scale(1,1.04)" font-size="26.4">.</text><text transform="translate(52.12,0) scale(1,1.085)" font-size="26.4">05</text><text transform="translate(81.48,0) scale(1,1.04)" font-size="26.4">; </text><text transform="translate(96.15,0) scale(1.226,1.07)" font-size="26.4" style="font-family:'Liberation Serif',serif">α</text><path transform="translate(112.85,0) scale(0.01289,-0.01289)" d="M100 216V360H1095V216ZM100 618V762H1095V618Z"/><path transform="translate(128.27,0) scale(0.01289,-0.01399)" d="M563 0V1034H207V1163C420 1168 575 1250 616 1440H735V0Z"/><text transform="translate(142.95,0) scale(1,1.085)" font-size="26.4">0</text><text transform="translate(157.63,-12.2) scale(1,1.04)" font-size="16.37">-</text><text transform="translate(163.08,-12.2) scale(1,1.085)" font-size="16.37">4</text></g>
<path d="M568.8,121.14H593.4" stroke="#00ff00" stroke-width="1.5"/>
<g transform="translate(593.3,121.34)" fill="#00ff00" style="font-family:'Liberation Sans',sans-serif;font-kerning:none"><text transform="translate(0.00,0) scale(1,1.04)" font-size="26.4">h</text><path transform="translate(14.68,0) scale(0.01289,-0.01289)" d="M100 216V360H1095V216ZM100 618V762H1095V618Z"/><text transform="translate(30.10,0) scale(1,1.085)" font-size="26.4">0</text><text transform="translate(44.78,0) scale(1,1.04)" font-size="26.4">.</text><text transform="translate(52.12,0) scale(1,1.085)" font-size="26.4">05</text><text transform="translate(81.48,0) scale(1,1.04)" font-size="26.4">; </text><text transform="translate(96.15,0) scale(1.226,1.07)" font-size="26.4" style="font-family:'Liberation Serif',serif">α</text><path transform="translate(112.85,0) scale(0.01289,-0.01289)" d="M100 216V360H1095V216ZM100 618V762H1095V618Z"/><path transform="translate(128.27,0) scale(0.01289,-0.01399)" d="M563 0V1034H207V1163C420 1168 575 1250 616 1440H735V0Z"/><text transform="translate(142.95,0) scale(1,1.085)" font-size="26.4">0</text><text transform="translate(157.63,-12.2) scale(1,1.04)" font-size="16.37">-</text><text transform="translate(163.08,-12.2) scale(1,1.085)" font-size="16.37">2</text></g>
<path d="M568.8,147.06H593.4" stroke="#ff9000" stroke-width="1.5"/>
<g transform="translate(593.3,147.26)" fill="#ff9000" style="font-family:'Liberation Sans',sans-serif;font-kerning:none"><text transform="translate(0.00,0) scale(1,1.04)" font-size="26.4">h</text><path transform="translate(14.68,0) scale(0.01289,-0.01289)" d="M100 216V360H1095V216ZM100 618V762H1095V618Z"/><text transform="translate(30.10,0) scale(1,1.085)" font-size="26.4">0</text><text transform="translate(44.78,0) scale(1,1.04)" font-size="26.4">.</text><text transform="translate(52.12,0) scale(1,1.085)" font-size="26.4">07</text><text transform="translate(81.48,0) scale(1,1.04)" font-size="26.4">; </text><text transform="translate(96.15,0) scale(1.226,1.07)" font-size="26.4" style="font-family:'Liberation Serif',serif">α</text><path transform="translate(112.85,0) scale(0.01289,-0.01289)" d="M100 216V360H1095V216ZM100 618V762H1095V618Z"/><path transform="translate(128.27,0) scale(0.01289,-0.01399)" d="M563 0V1034H207V1163C420 1168 575 1250 616 1440H735V0Z"/><text transform="translate(142.95,0) scale(1,1.085)" font-size="26.4">0</text><text transform="translate(157.63,-12.2) scale(1,1.04)" font-size="16.37">-</text><text transform="translate(163.08,-12.2) scale(1,1.085)" font-size="16.37">3</text></g>
<path d="M568.8,172.98H593.4" stroke="#ff0000" stroke-width="1.5"/>
<g transform="translate(593.3,173.18)" fill="#ff0000" style="font-family:'Liberation Sans',sans-serif;font-kerning:none"><text transform="translate(0.00,0) scale(1,1.04)" font-size="26.4">h</text><path transform="translate(14.68,0) scale(0.01289,-0.01289)" d="M100 216V360H1095V216ZM100 618V762H1095V618Z"/><text transform="translate(30.10,0) scale(1,1.085)" font-size="26.4">0</text><text transform="translate(44.78,0) scale(1,1.04)" font-size="26.4">.</text><text transform="translate(52.12,0) scale(1,1.085)" font-size="26.4">03</text><text transform="translate(81.48,0) scale(1,1.04)" font-size="26.4">; </text><text transform="translate(96.15,0) scale(1.226,1.07)" font-size="26.4" style="font-family:'Liberation Serif',serif">α</text><path transform="translate(112.85,0) scale(0.01289,-0.01289)" d="M100 216V360H1095V216ZM100 618V762H1095V618Z"/><path transform="translate(128.27,0) scale(0.01289,-0.01399)" d="M563 0V1034H207V1163C420 1168 575 1250 616 1440H735V0Z"/><text transform="translate(142.95,0) scale(1,1.085)" font-size="26.4">0</text><text transform="translate(157.63,-12.2) scale(1,1.04)" font-size="16.37">-</text><text transform="translate(163.08,-12.2) scale(1,1.085)" font-size="16.37">3</text></g>
</svg>
</body></html>
